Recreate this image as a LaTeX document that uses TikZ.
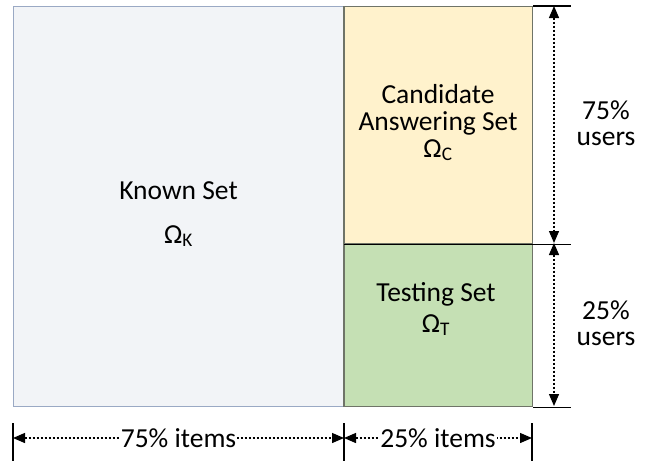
\documentclass[tikz,border=0pt]{standalone}
\usepackage{fontspec}
\setmainfont{Carlito}
\usetikzlibrary{arrows.meta,positioning}

\definecolor{knownfill}{HTML}{F2F4F7}
\definecolor{knownline}{HTML}{9AA9C4}
\definecolor{candfill}{HTML}{FFF2CC}
\definecolor{testfill}{HTML}{C5E0B4}
\definecolor{boxline}{HTML}{6F7468}

\tikzset{
	setbox/.style={draw=boxline, line width=1.3pt, inner sep=0pt, anchor=north west},
	lbl/.style={font=\fontsize{27.5}{29}\selectfont, inner sep=0pt, anchor=base},
	tick/.style={line width=1.4pt, black},
	dimarrow/.style={line width=1.3pt, dash pattern=on 2.4pt off 1.6pt,
		{Triangle[length=12pt,width=10pt]}-{Triangle[length=12pt,width=10pt]}},
}

\begin{document}
\begin{tikzpicture}[x=1pt,y=-1pt]
		\useasboundingbox (0,0) rectangle (650,461);
		% the three sets
		\node[setbox, draw=knownline, fill=knownfill, minimum width=331pt, minimum height=400pt] (known) at (13,6) {};
		\node[setbox, fill=candfill, minimum width=188pt, minimum height=237pt] (cand) at (344,6) {};
		\node[setbox, fill=testfill, minimum width=188pt, minimum height=163pt] (test) at (344,243) {};
		\draw[boxline, line width=1.3pt] (cand.north west) -- (test.south west);
		\draw[black, line width=1.3pt] (cand.south west) -- (cand.south east);
		% labels
		\node[lbl] (knowntxt) at (178.5,199) {Known Set};
		\node[lbl] (knownsym) at (178.5,243) {Ω\textsubscript{K}};
		\node[lbl] (candtxt) at (438,103) {Candidate};
		\node[lbl] (candtxtb) at (438,130) {Answering Set};
		\node[lbl] (candsym) at (438,157) {Ω\textsubscript{C}};
		\node[lbl] (testtxt) at (436,301) {Testing Set};
		\node[lbl] (testsym) at (436,332) {Ω\textsubscript{T}};
		% users ruler
		\coordinate (ra) at (554,6);
		\coordinate (rb) at (554,243);
		\coordinate (rc) at (554,406);
		\draw[tick] (cand.north east) -- ++(38,0);
		\draw[tick] (cand.south east) -- ++(38,0);
		\draw[tick] (test.south east) -- ++(38,0);
		\draw[dimarrow] (ra) -- (rb);
		\draw[dimarrow] (rb) -- (rc);
		\node[lbl] (upa) at (606,119) {75\%};
		\node[lbl] (upb) at (606,145) {users};
		\node[lbl] (lowa) at (606,319) {25\%};
		\node[lbl] (lowb) at (606,345) {users};
		% items ruler
		\coordinate (ba) at (13,438);
		\coordinate (bb) at (344,438);
		\coordinate (bc) at (532,438);
		\foreach \x in {13,344,532}
			\draw[tick] (\x,423) -- (\x,461);
		\draw[dimarrow] (ba) -- node[lbl, anchor=center, fill=white, inner sep=1pt] (leftlbl) {75\% items} (bb);
		\draw[dimarrow] (bb) -- node[lbl, anchor=center, fill=white, inner sep=1pt] (rightlbl) {25\% items} (bc);
	\end{tikzpicture}
\end{document}
